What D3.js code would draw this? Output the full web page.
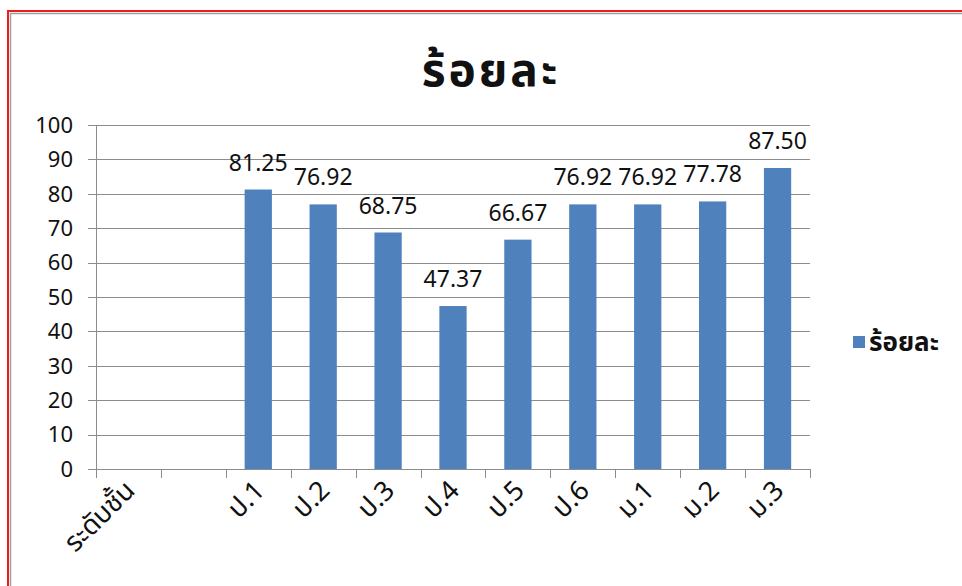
<!DOCTYPE html>
<html>
<head>
<meta charset="utf-8">
<script src="https://cdn.jsdelivr.net/npm/d3@7"></script>
<style>
  body { margin: 0; background: #fff; }
  svg text { font-family: Tahoma, "Noto Sans Thai", "DejaVu Sans", sans-serif; fill: #111; }
</style>
</head>
<body>
<div id="chart"></div>
<script>
// data
const categories = ['ระดับชั้น', '', 'ป.1', 'ป.2', 'ป.3', 'ป.4', 'ป.5', 'ป.6', 'ม.1', 'ม.2', 'ม.3'];
const values = [null, null, 81.25, 76.92, 68.75, 47.37, 66.67, 76.92, 76.92, 77.78, 87.50];
const yTicks = [0, 10, 20, 30, 40, 50, 60, 70, 80, 90, 100];
const seriesName = 'ร้อยละ';

const width = 962;
const height = 586;
const barColor = '#4f81bd';
const gridColor = '#8c8c8c';

const svg = d3
  .select('#chart')
  .append('svg')
  .attr('width', width)
  .attr('height', height);

// frame: red outer line + grey inner line
svg.append('path')
  .attr('d', 'M8,586 V11 H962')
  .attr('fill', 'none')
  .attr('stroke', '#ee1c1c')
  .attr('stroke-width', 2);
svg.append('path')
  .attr('d', 'M10.5,586 V13.5 H962')
  .attr('fill', 'none')
  .attr('stroke', '#a0a0a0')
  .attr('stroke-width', 1.5);

const x = d3.scaleBand()
  .domain(categories)
  .range([96, 810]);

const y = d3.scaleLinear()
  .domain([0, 100])
  .range([469, 125]);

const barW = x.bandwidth() * 0.42;

// title
svg.append('text')
  .attr('x', 491)
  .attr('y', 86)
  .attr('text-anchor', 'middle')
  .style('font-size', '46px')
  .style('font-weight', 'bold')
  .style('letter-spacing', '3px')
  .text(seriesName);

// grid lines
svg.append('g')
  .selectAll('line')
  .data(yTicks)
  .enter()
  .append('line')
  .attr('x1', 88)
  .attr('x2', 810)
  .attr('y1', d => Math.round(y(d)) + 0.5)
  .attr('y2', d => Math.round(y(d)) + 0.5)
  .attr('stroke', gridColor)
  .attr('stroke-width', 1);

// y labels
svg.append('g')
  .selectAll('text')
  .data(yTicks)
  .enter()
  .append('text')
  .attr('x', 73)
  .attr('y', d => y(d))
  .attr('dy', '0.35em')
  .attr('text-anchor', 'end')
  .style('font-size', '22px')
  .text(d => d);

// y axis line
svg.append('line')
  .attr('x1', 96.5)
  .attr('x2', 96.5)
  .attr('y1', y(100))
  .attr('y2', y(0))
  .attr('stroke', gridColor);

// x tick marks at category boundaries
const bounds = categories.map(c => x(c)).concat([x.range()[1]]);
svg.append('g')
  .selectAll('line')
  .data(bounds)
  .enter()
  .append('line')
  .attr('x1', d => Math.round(d) + 0.5)
  .attr('x2', d => Math.round(d) + 0.5)
  .attr('y1', y(0))
  .attr('y2', y(0) + 9)
  .attr('stroke', gridColor);

// bars
const barData = categories
  .map((c, i) => ({ cat: c, val: values[i] }))
  .filter(d => d.val !== null);

svg.append('g')
  .selectAll('rect')
  .data(barData)
  .enter()
  .append('rect')
  .attr('x', d => x(d.cat) + (x.bandwidth() - barW) / 2)
  .attr('y', d => y(d.val))
  .attr('width', barW)
  .attr('height', d => y(0) - y(d.val))
  .attr('fill', barColor);

// value labels
svg.append('g')
  .selectAll('text')
  .data(barData)
  .enter()
  .append('text')
  .attr('x', d => x(d.cat) + x.bandwidth() / 2)
  .attr('y', d => y(d.val) - 19)
  .attr('text-anchor', 'middle')
  .style('font-size', '23px')
  .text(d => d.val.toFixed(2));

// category labels, rotated
svg.append('g')
  .selectAll('text')
  .data(categories)
  .enter()
  .append('text')
  .attr('text-anchor', 'end')
  .attr('transform', c => {
    const cx = x(c) + x.bandwidth() / 2 + 8;
    return 'translate(' + cx + ',' + 492 + ')rotate(-45)';
  })
  .style('font-size', '27px')
  .text(d => d);

// legend
svg.append('rect')
  .attr('x', 853)
  .attr('y', 336)
  .attr('width', 12)
  .attr('height', 12)
  .attr('fill', barColor);
svg.append('text')
  .attr('x', 869)
  .attr('y', 342)
  .attr('dy', '0.35em')
  .style('font-size', '26px')
  .style('font-weight', 'bold')
  .text(seriesName);
</script>
</body>
</html>
